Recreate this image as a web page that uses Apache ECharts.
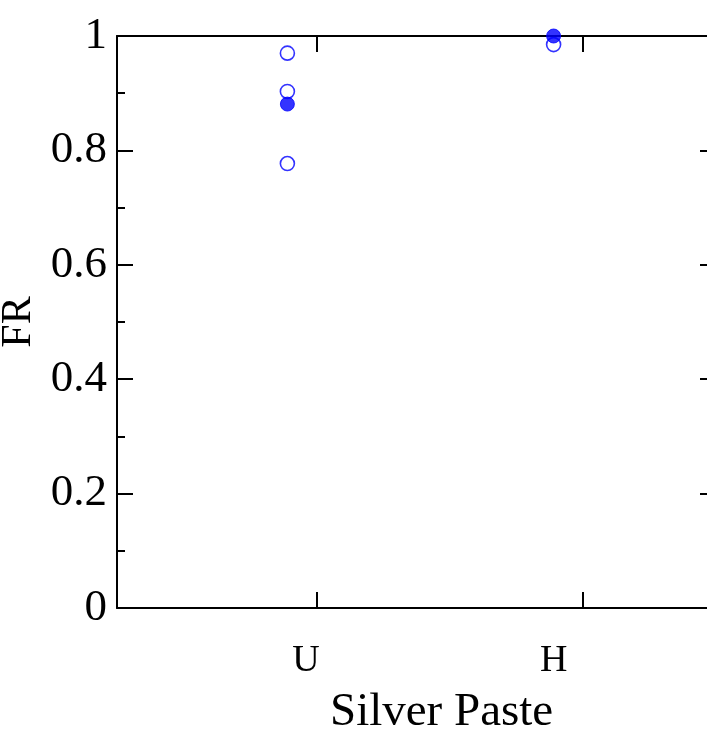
<!DOCTYPE html>
<html>
<head>
<meta charset="utf-8">
<script src="https://cdn.jsdelivr.net/npm/echarts@6/dist/echarts.min.js"></script>
<style>
  html, body { margin: 0; padding: 0; background: #fff; overflow: hidden; }
  #chart { width: 707px; height: 729px; }
</style>
</head>
<body>
<div id="chart"></div>
<script>
// Paste types along the x axis (category k sits at x = k + 1)
const categories = ['U', 'H'];
// Measured FR values per paste; open markers and filled markers
const openFR = [
  [0.970, 0.903, 0.777],   // U
  [0.985]                  // H
];
const filledFR = [
  [0.881],                 // U
  [1.000]                  // H
];
// Points are drawn slightly left of each category position
const pointShift = -0.11;

function toPoints(groups) {
  const pts = [];
  groups.forEach((vals, k) => {
    vals.forEach(v => pts.push([k + 1 + pointShift, v]));
  });
  return pts;
}

const FONT = 'Liberation Serif';
const tickPos = categories.map((c, k) => k + 1);
const labelPos = [0.96, 1.89];

const chart = echarts.init(document.getElementById('chart'), null, { renderer: 'canvas' });
chart.setOption({
  animation: false,
  backgroundColor: '#fff',
  grid: { left: 117, top: 36, right: -9, bottom: 121, containLabel: false, outerBoundsMode: 'none' },
  xAxis: [
    {
      type: 'value', position: 'bottom', min: 0.25, max: 2.5,
      axisLine: { show: true, onZero: false, lineStyle: { color: '#000', width: 2 } },
      axisTick: { show: true, inside: true, length: 16, customValues: tickPos,
                  lineStyle: { color: '#000', width: 2 } },
      axisLabel: {
        show: true, customValues: labelPos, margin: 34,
        fontFamily: FONT, fontSize: 38, color: '#000',
        formatter: function (v) {
          let best = 0;
          labelPos.forEach((p, i) => { if (Math.abs(p - v) < Math.abs(labelPos[best] - v)) best = i; });
          return categories[best];
        }
      },
      splitLine: { show: false }
    },
    {
      type: 'value', position: 'top', min: 0.25, max: 2.5,
      axisLine: { show: true, onZero: false, lineStyle: { color: '#000', width: 2 } },
      axisTick: { show: true, inside: true, length: 16, customValues: tickPos,
                  lineStyle: { color: '#000', width: 2 } },
      axisLabel: { show: false },
      splitLine: { show: false }
    }
  ],
  yAxis: [
    {
      type: 'value', position: 'left', min: 0, max: 1, interval: 0.2,
      name: 'FR', nameLocation: 'middle', nameGap: 66, nameRotate: 90,
      nameTextStyle: { fontFamily: FONT, fontSize: 42, color: '#000' },
      axisLine: { show: true, onZero: false, lineStyle: { color: '#000', width: 2 } },
      axisTick: { show: true, inside: true, length: 16, lineStyle: { color: '#000', width: 2 } },
      minorTick: { show: true, splitNumber: 2, length: 8, lineStyle: { color: '#000', width: 2 } },
      axisLabel: {
        show: true, margin: 10, fontFamily: FONT, fontSize: 45, color: '#000',
        formatter: v => String(Math.round(v * 10) / 10)
      },
      splitLine: { show: false }
    },
    {
      // right-hand frame edge lies past the canvas; only its inward ticks reach the view
      type: 'value', position: 'right', min: 0, max: 1, interval: 0.2,
      axisLine: { show: false },
      axisTick: { show: true, inside: true, length: 16, lineStyle: { color: '#000', width: 2 } },
      minorTick: { show: true, splitNumber: 2, length: 8, lineStyle: { color: '#000', width: 2 } },
      axisLabel: { show: false },
      splitLine: { show: false }
    }
  ],
  graphic: [
    {
      type: 'text', left: 330, top: 689,
      style: { text: 'Silver Paste', fontFamily: FONT, fontSize: 47, fill: '#000' }
    }
  ],
  series: [
    {
      name: 'open', type: 'scatter', xAxisIndex: 0, yAxisIndex: 0,
      data: toPoints(openFR), clip: false,
      symbol: 'circle', symbolSize: 14,
      itemStyle: { color: 'rgba(0,0,0,0)', borderColor: '#0000ff', borderWidth: 1.6 }
    },
    {
      name: 'filled', type: 'scatter', xAxisIndex: 0, yAxisIndex: 0,
      data: toPoints(filledFR), clip: false,
      symbol: 'circle', symbolSize: 14,
      itemStyle: { color: '#0000ff', borderColor: '#0000ff', borderWidth: 1 }
    }
  ]
});
</script>
</body>
</html>
